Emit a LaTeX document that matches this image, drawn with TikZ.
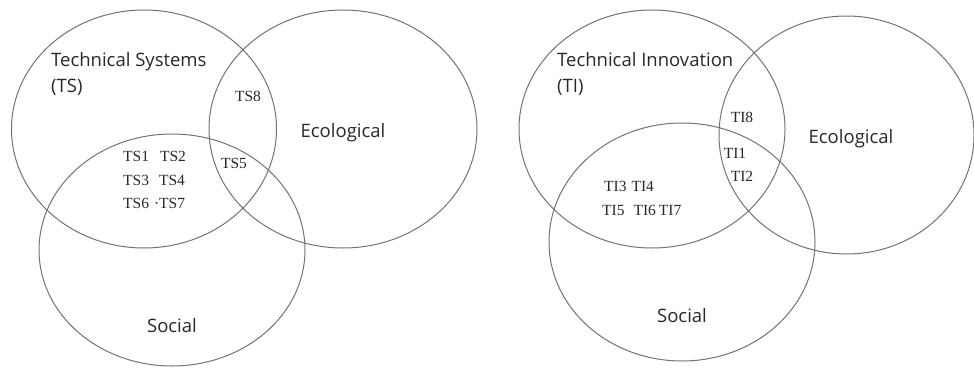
\documentclass[tikz,border=0pt]{standalone}
\usepackage{fontspec}
\setmainfont{Liberation Serif}
\newfontfamily\labelfont{Open Sans}
\usetikzlibrary{shapes.geometric}

\definecolor{ringgray}{RGB}{115,115,115}
\definecolor{inkgray}{RGB}{40,40,40}

\tikzset{
  ring/.style={draw=ringgray, line width=1pt, ellipse, inner sep=0pt,
               minimum width=2*#1},
  setname/.style={font=\labelfont\fontsize{18.5}{22}\selectfont, text=inkgray, inner sep=0pt},
  item/.style={font=\fontsize{15.5}{18}\selectfont, text=inkgray, inner sep=0pt},
}

\begin{document}
\begin{tikzpicture}[x=1pt, y=-1pt]
\useasboundingbox (0,0) rectangle (974,367);

% ---- Technical Systems panel ----
\node[ring=132.5, minimum height=238] (ts)  at (144,129) {};
\node[ring=134,   minimum height=238] (ecl) at (343,129) {};
\node[ring=133,   minimum height=232] (sol) at (172,250) {};

\node[setname, anchor=base west] (tsname) at (51,66.5) {Technical Systems};
\node[setname, anchor=base west] (tsabbr) at (51,92.5) {(TS)};
\node[setname, anchor=base] (ecolabl) at (343,137) {Ecological};
\node[setname, anchor=base] (soclabl) at (172,332) {Social};

\node[item] (ts8) at (248,96) {TS8};
\node[item] (ts5) at (234,163) {TS5};
\node[item, anchor=west] (tsrowa) at (123,156.5) {TS1\hspace{11pt}TS2};
\node[item, anchor=west] (tsrowb) at (123,180)   {TS3\hspace{10pt}TS4};
\node[item, anchor=west] (tsrowc) at (123,203.5) {TS6\hspace{5pt}·TS7};

% ---- Technical Innovation panel ----
\node[ring=133,   minimum height=238] (ti)  at (652,129) {};
\node[ring=127.5, minimum height=238] (ecr) at (846.5,135) {};
\node[ring=133,   minimum height=238] (sor) at (682,242) {};

\node[setname, anchor=base west] (tiname) at (557,66) {Technical Innovation};
\node[setname, anchor=base west] (tiabbr) at (557,92.5) {(TI)};
\node[setname, anchor=base] (ecolabr) at (851,143.5) {Ecological};
\node[setname, anchor=base] (soclabr) at (682,322) {Social};

\node[item] (ti8) at (742,117) {TI8};
\node[item] (ti1) at (735,153) {TI1};
\node[item] (ti2) at (742,176) {TI2};
\node[item, anchor=west] (tirowa) at (604,186) {TI3\hspace{5pt}TI4};
\node[item, anchor=west] (tirowb) at (602,210) {TI5\hspace{9pt}TI6\hspace{3pt}TI7};
\end{tikzpicture}
\end{document}
